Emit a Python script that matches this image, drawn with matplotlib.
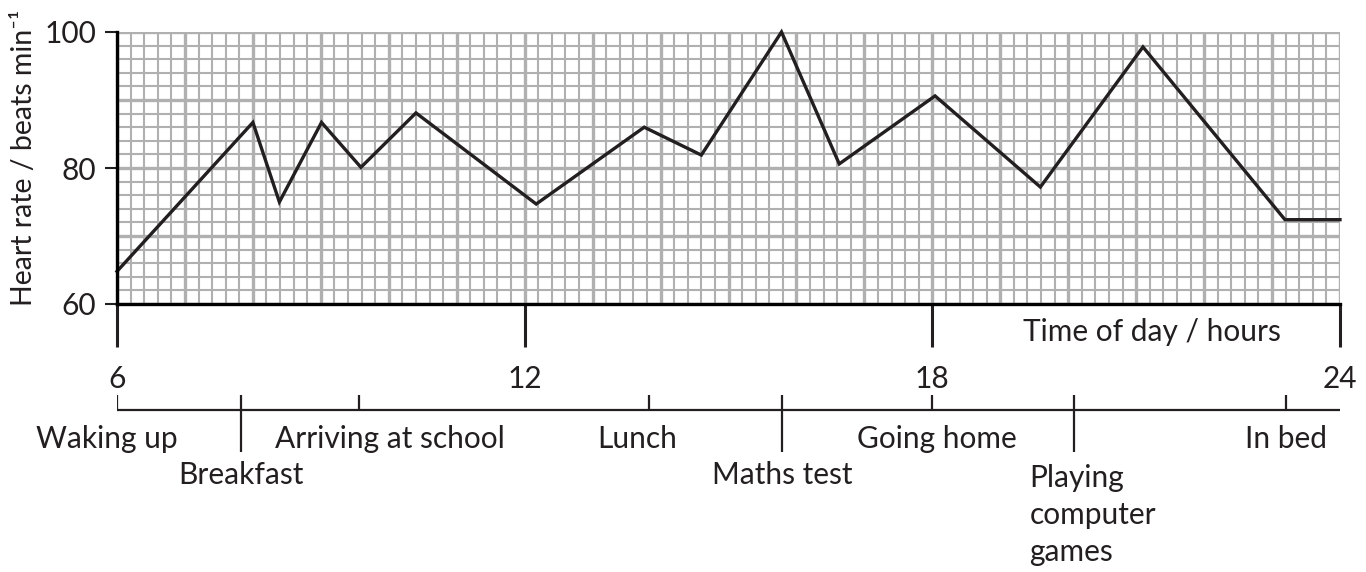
import numpy as np
import matplotlib.pyplot as plt

plt.rcParams['font.family'] = ['Lato', 'DejaVu Sans']

# heart rate trace
hours = [6, 8.0, 8.39, 9.01, 9.59, 10.40, 12.17, 13.76, 14.6, 15.78,
         16.63, 18.04, 19.59, 21.1, 23.19, 24]
heart_rate = [64.8, 86.7, 75.0, 86.7, 80.1, 88.1, 74.7, 86.0, 81.9, 100,
              80.6, 90.6, 77.2, 97.8, 72.4, 72.4]

x_ticks = [6, 12, 18, 24]
y_ticks = [60, 80, 100]

# activity timeline below the axis
short_marks = [6, 9.56, 13.83, 18.0, 23.2]
long_marks = [7.82, 15.79, 20.08]
upper_labels = ['Waking up', 'Arriving at school', 'Lunch', 'Going home', 'In bed']
upper_pos = [5.85, 10.02, 13.66, 18.06, 23.2]
lower_labels = ['Breakfast', 'Maths test']
lower_pos = [7.82, 15.79]
games_label = 'Playing\ncomputer\ngames'
games_pos = 19.43

W, H = 1366, 572
fig = plt.figure(figsize=(W / 100, H / 100), dpi=100)
fs = 21.5
ink = '#231f20'

x0, x1, ytop, ybot = 117, 1340, 32, 304
ax = fig.add_axes([x0 / W, 1 - ybot / H, (x1 - x0) / W, (ybot - ytop) / H])
ax.set_xlim(6, 24)
ax.set_ylim(60, 100)

grey = '#b0b0b0'
for t in np.arange(6, 24.01, 0.2):
    major = abs(t - round(t)) < 1e-6
    ax.axvline(t, color=grey, lw=2.4 if major else 1.5, zorder=1)
for v in np.arange(60, 100.01, 2):
    major = abs(v % 10) < 1e-6 or abs(v % 10 - 10) < 1e-6
    ax.axhline(v, color=grey, lw=2.4 if major else 1.5, zorder=1)

ax.plot(hours, heart_rate, color=ink, lw=2.4, zorder=3, clip_on=False,
        solid_joinstyle='miter')

for s in ['top', 'right']:
    ax.spines[s].set_visible(False)
for s in ['left', 'bottom']:
    ax.spines[s].set_linewidth(2.4)
    ax.spines[s].set_color('black')
    ax.spines[s].set_zorder(4)

ax.set_xticks(x_ticks)
ax.set_xticklabels([str(t) for t in x_ticks])
ax.tick_params(axis='x', direction='out', length=31, width=2.2, pad=13,
               labelsize=fs, colors=ink)
ax.set_yticks(y_ticks)
ax.tick_params(axis='y', direction='out', length=9, width=1.5, pad=6,
               labelsize=fs, colors=ink)

fig.text(24 / W, 1 - 158 / H, 'Heart rate / beats min\u207b\u00b9', rotation=90,
         ha='center', va='center', fontsize=20.5, color=ink)
fig.text(1152 / W, 1 - 332 / H, 'Time of day / hours', ha='center', va='center',
         fontsize=fs, color=ink)

# timeline axes, y in pixel rows
ax2 = fig.add_axes([x0 / W, 0, (x1 - x0) / W, (H - 385) / H])
ax2.set_xlim(6, 24)
ax2.set_ylim(H, 385)
ax2.axis('off')
line_y = 410
ax2.hlines(line_y, 6, 24, color=ink, lw=1.6)
ax2.vlines(short_marks, 395, line_y, color=ink, lw=1.6)
ax2.vlines(long_marks, 395, 452, color=ink, lw=1.6)
for lab, p in zip(upper_labels, upper_pos):
    ax2.text(p, 439, lab, ha='center', va='center', fontsize=fs, color=ink)
for lab, p in zip(lower_labels, lower_pos):
    ax2.text(p, 475, lab, ha='center', va='center', fontsize=fs, color=ink)
ax2.text(games_pos, 464, games_label, ha='left', va='top', fontsize=fs,
         color=ink, linespacing=1.4)

fig.savefig('out.png', dpi=100)
